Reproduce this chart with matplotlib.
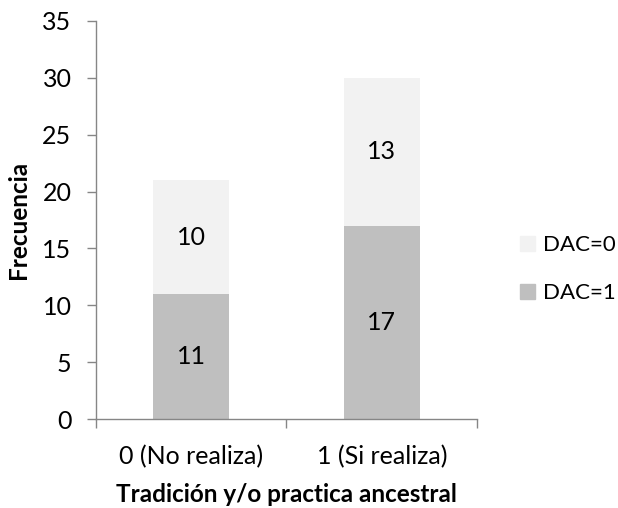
import matplotlib.pyplot as plt
from matplotlib.patches import Patch

plt.rcParams['font.family'] = ['Lato', 'DejaVu Sans']

# frecuencias por grupo
categorias = ["0 (No realiza)", "1 (Si realiza)"]
dac1 = [11, 17]
dac0 = [10, 13]

color_dac1 = "#bfbfbf"
color_dac0 = "#f2f2f2"
gris_eje = "#868686"
tam = 18

fig = plt.figure(figsize=(6.18, 5.08), dpi=100)
ax = fig.add_axes([0.155, 0.175, 0.617, 0.784])

x = range(len(categorias))
ax.bar(x, dac1, width=0.4, color=color_dac1)
ax.bar(x, dac0, width=0.4, bottom=dac1, color=color_dac0)

# etiquetas con el valor dentro de cada segmento
for i in x:
    ax.text(i, dac1[i] / 2, str(dac1[i]), ha="center", va="center", fontsize=tam)
    ax.text(i, dac1[i] + dac0[i] / 2, str(dac0[i]), ha="center", va="center", fontsize=tam)

ax.set_xlim(-0.5, 1.5)
ax.set_ylim(0, 35)
ax.set_yticks(range(0, 36, 5))
ax.set_xticks(list(x))
ax.set_xticklabels(categorias)
ax.set_xticks([-0.5, 0.5, 1.5], minor=True)
ax.tick_params(axis="x", which="major", length=0, pad=19, labelsize=tam)
ax.tick_params(axis="x", which="minor", length=6.5, width=1, color=gris_eje, direction="out")
ax.tick_params(axis="y", length=6.5, width=1, color=gris_eje, pad=11, labelsize=tam)

for lado in ["top", "right"]:
    ax.spines[lado].set_visible(False)
for lado in ["left", "bottom"]:
    ax.spines[lado].set_color(gris_eje)
    ax.spines[lado].set_linewidth(1)

ax.set_ylabel("Frecuencia", fontsize=17.5, fontweight="bold", labelpad=9)
ax.set_xlabel("Tradición y/o practica ancestral", fontsize=17.5, fontweight="bold", labelpad=10)

handles = [Patch(color=color_dac0, label="DAC=0"), Patch(color=color_dac1, label="DAC=1")]
fig.legend(handles=handles, loc="center left", bbox_to_anchor=(0.841, 0.47), frameon=False,
           borderpad=0, borderaxespad=0, fontsize=16, handlelength=0.68, handleheight=0.68,
           handletextpad=0.35, labelspacing=1.25)

fig.savefig("out.png", dpi=100)
